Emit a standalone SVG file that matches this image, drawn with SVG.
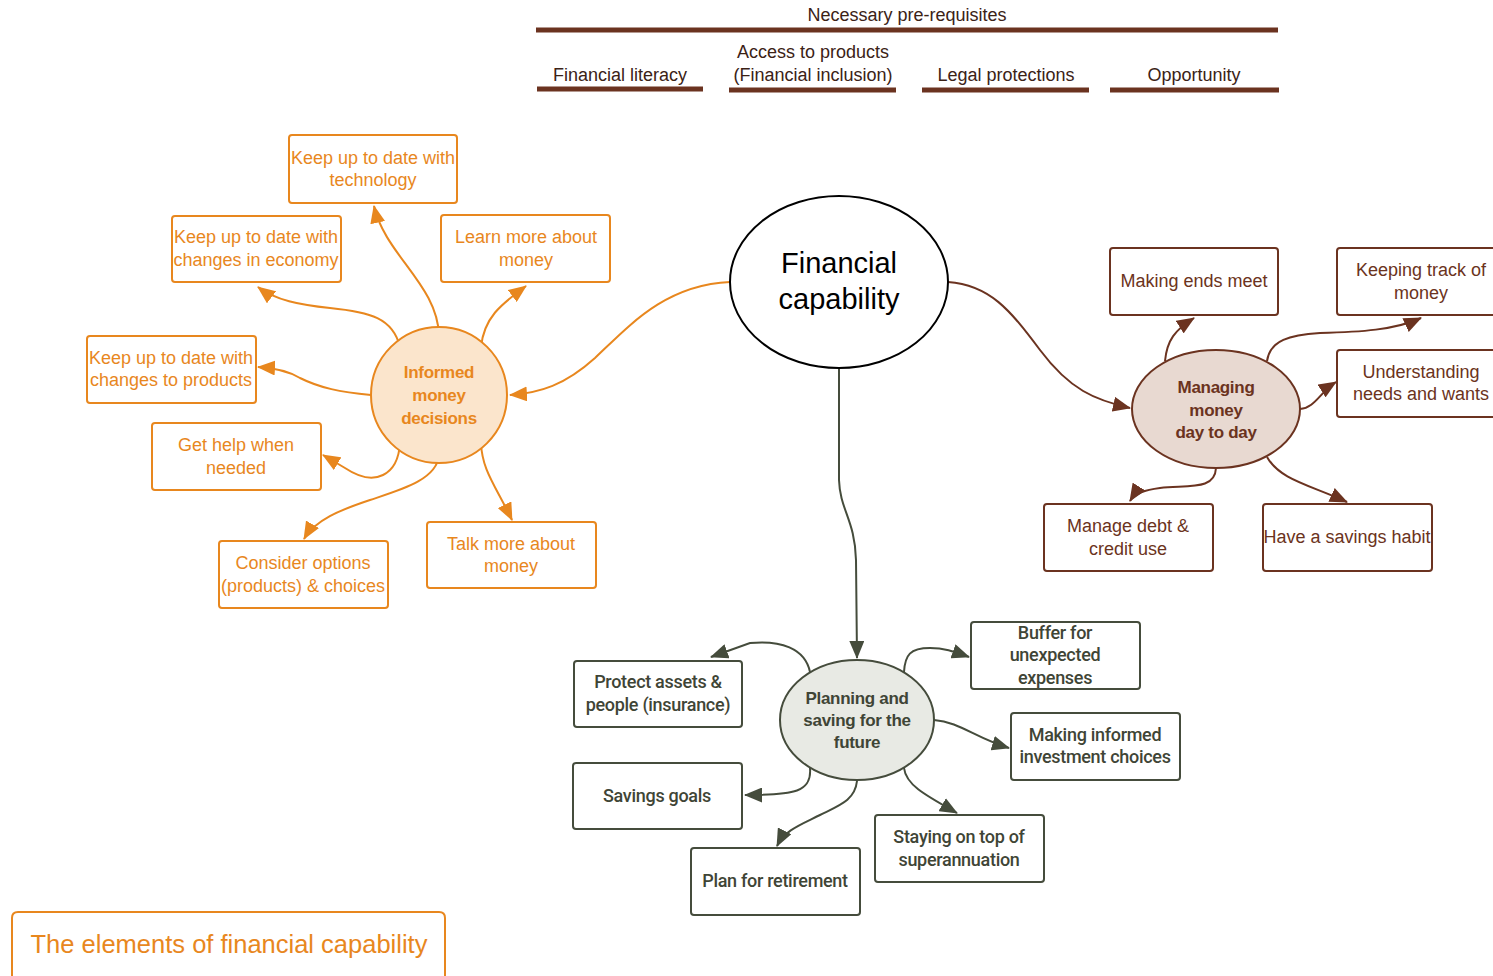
<svg xmlns="http://www.w3.org/2000/svg" width="1493" height="976" viewBox="0 0 1493 976">
<style>
text{font-family:"Liberation Sans",Arial,sans-serif;text-anchor:middle}
.o rect{fill:#fff;stroke:#E8871E;stroke-width:2}
.o text{fill:#E8871E;font-size:18px}
.b rect{fill:#fff;stroke:#6B3320;stroke-width:2}
.b text{fill:#6B3320;font-size:18px}
.g rect{fill:#fff;stroke:#454C3C;stroke-width:2}
.g text{fill:#3F4536;font-size:18px;font-family:Roboto,"Liberation Sans",sans-serif;font-weight:500;letter-spacing:-0.3px}
.co path{fill:none;stroke:#E8871E;stroke-width:2;marker-end:url(#ao)}
.cb path{fill:none;stroke:#6B3320;stroke-width:2;marker-end:url(#ab)}
.cg path{fill:none;stroke:#454C3C;stroke-width:2;marker-end:url(#ag)}
.pre text{fill:#3B2216;font-size:18px}
.pre line{stroke:#6B3320;stroke-width:5}
.hub text{font-weight:bold;font-size:17px;letter-spacing:-0.3px}
</style>
<defs>
<marker id="ao" viewBox="0 0 18 15" refX="17" refY="7.5" markerWidth="18" markerHeight="15" markerUnits="userSpaceOnUse" orient="auto"><path d="M0,0 L18,7.5 L0,15 Z" fill="#E8871E"/></marker>
<marker id="ab" viewBox="0 0 18 15" refX="17" refY="7.5" markerWidth="18" markerHeight="15" markerUnits="userSpaceOnUse" orient="auto"><path d="M0,0 L18,7.5 L0,15 Z" fill="#6B3320"/></marker>
<marker id="ag" viewBox="0 0 18 15" refX="17" refY="7.5" markerWidth="18" markerHeight="15" markerUnits="userSpaceOnUse" orient="auto"><path d="M0,0 L18,7.5 L0,15 Z" fill="#454C3C"/></marker>
</defs>
<rect width="1493" height="976" fill="#fff"/>

<g id="prerequisites" class="pre">
<text x="907" y="21">Necessary pre-requisites</text>
<line x1="536" y1="30" x2="1278" y2="30"/>
<text x="620" y="81">Financial literacy</text>
<line x1="537" y1="89" x2="703" y2="89"/>
<text x="813" y="58">Access to products</text>
<text x="813" y="81">(Financial inclusion)</text>
<line x1="729" y1="90" x2="896" y2="90"/>
<text x="1006" y="81">Legal protections</text>
<line x1="922" y1="90" x2="1089" y2="90"/>
<text x="1194" y="81">Opportunity</text>
<line x1="1110" y1="90" x2="1279" y2="90"/>
</g>

<g id="connectors">
<g class="co">
<path d="M730,282 C665,285 630,325 595,358 C565,385 540,393 510,395"/>
<path d="M439,336 C438,285 385,255 374,206"/>
<path d="M400,347 C393,318 370,312 330,308 C300,305 275,300 258,287"/>
<path d="M481,347 C484,318 500,305 526,286"/>
<path d="M371,395 C340,392 320,388 300,378 C290,372 275,368 258,367"/>
<path d="M400,443 C398,475 375,488 345,468 L323,455"/>
<path d="M439,455 C437,480 400,490 370,500 C340,510 315,520 304,539"/>
<path d="M481,443 C482,470 495,485 512,520"/>
</g>
<g class="cb">
<path d="M948,282 C990,285 1010,310 1040,350 C1070,390 1095,400 1130,408"/>
<path d="M1165,361 C1167,340 1175,330 1194,318"/>
<path d="M1267,361 C1270,340 1290,335 1320,333 C1360,332 1395,330 1421,318"/>
<path d="M1300,409 C1315,408 1320,392 1336,382"/>
<path d="M1216,468 C1215,490 1190,485 1160,488 C1145,490 1135,493 1130,501"/>
<path d="M1267,457 C1280,480 1310,485 1347,502"/>
</g>
<g class="cg">
<path d="M839,368 L839,480 C840,510 855,520 856,560 L857,658"/>
<path d="M810,672 C805,648 780,640 750,643 L711,657"/>
<path d="M904,672 C905,655 910,648 930,648 C945,648 955,652 969,657"/>
<path d="M934,720 C960,722 975,738 1009,748"/>
<path d="M810,768 C812,792 795,795 745,795"/>
<path d="M857,781 C855,800 840,805 820,815 C800,825 785,830 777,846"/>
<path d="M904,768 C906,785 925,795 957,813"/>
</g>
</g>

<g id="financial-capability">
<ellipse cx="839" cy="282" rx="109" ry="86" fill="#fff" stroke="#000" stroke-width="2"/>
<text x="839" y="273" font-size="29" fill="#000">Financial</text>
<text x="839" y="309" font-size="29" fill="#000">capability</text>
</g>

<g id="informed-money-decisions" class="hub">
<circle cx="439" cy="395" r="68" fill="#FBE5CC" stroke="#E8871E" stroke-width="2"/>
<text x="439" y="378" fill="#E8871E">Informed</text>
<text x="439" y="401" fill="#E8871E">money</text>
<text x="439" y="424" fill="#E8871E">decisions</text>
</g>

<g id="managing-money" class="hub">
<ellipse cx="1216" cy="409" rx="84" ry="59" fill="#E8D9D1" stroke="#6B3320" stroke-width="2"/>
<text x="1216" y="393" fill="#6B3320">Managing</text>
<text x="1216" y="416" fill="#6B3320">money</text>
<text x="1216" y="438" fill="#6B3320">day to day</text>
</g>

<g id="planning-saving" class="hub">
<ellipse cx="857" cy="720" rx="77" ry="60" fill="#E8EAE4" stroke="#454C3C" stroke-width="2"/>
<text x="857" y="704" fill="#3F4536">Planning and</text>
<text x="857" y="726" fill="#3F4536">saving for the</text>
<text x="857" y="748" fill="#3F4536">future</text>
</g>

<g id="keep-technology" class="o"><rect x="289" y="135" width="168" height="68" rx="3"/><text x="373" y="164">Keep up to date with</text><text x="373" y="186">technology</text></g>
<g id="keep-economy" class="o"><rect x="172" y="216" width="169" height="66" rx="3"/><text x="256" y="243">Keep up to date with</text><text x="256" y="266">changes in economy</text></g>
<g id="learn-more" class="o"><rect x="441" y="215" width="169" height="67" rx="3"/><text x="526" y="243">Learn more about</text><text x="526" y="266">money</text></g>
<g id="keep-products" class="o"><rect x="87" y="336" width="169" height="67" rx="3"/><text x="171" y="364">Keep up to date with</text><text x="171" y="386">changes to products</text></g>
<g id="get-help" class="o"><rect x="152" y="423" width="169" height="67" rx="3"/><text x="236" y="451">Get help when</text><text x="236" y="474">needed</text></g>
<g id="consider-options" class="o"><rect x="219" y="541" width="169" height="67" rx="3"/><text x="303" y="569">Consider options</text><text x="303" y="592">(products) &amp; choices</text></g>
<g id="talk-more" class="o"><rect x="427" y="522" width="169" height="66" rx="3"/><text x="511" y="550">Talk more about</text><text x="511" y="572">money</text></g>

<g id="making-ends-meet" class="b"><rect x="1110" y="248" width="168" height="67" rx="3"/><text x="1194" y="287">Making ends meet</text></g>
<g id="keeping-track" class="b"><rect x="1337" y="248" width="170" height="67" rx="3"/><text x="1421" y="276">Keeping track of</text><text x="1421" y="299">money</text></g>
<g id="understanding-needs" class="b"><rect x="1337" y="350" width="170" height="67" rx="3"/><text x="1421" y="378">Understanding</text><text x="1421" y="400">needs and wants</text></g>
<g id="manage-debt" class="b"><rect x="1044" y="504" width="169" height="67" rx="3"/><text x="1128" y="532">Manage debt &amp;</text><text x="1128" y="555">credit use</text></g>
<g id="savings-habit" class="b"><rect x="1263" y="504" width="169" height="67" rx="3"/><text x="1347" y="543">Have a savings habit</text></g>

<g id="protect-assets" class="g"><rect x="574" y="661" width="168" height="66" rx="3"/><text x="658" y="688">Protect assets &amp;</text><text x="658" y="711">people (insurance)</text></g>
<g id="buffer" class="g"><rect x="971" y="622" width="169" height="67" rx="3"/><text x="1055" y="639">Buffer for</text><text x="1055" y="661">unexpected</text><text x="1055" y="684">expenses</text></g>
<g id="investment-choices" class="g"><rect x="1011" y="713" width="169" height="67" rx="3"/><text x="1095" y="741">Making informed</text><text x="1095" y="763">investment choices</text></g>
<g id="savings-goals" class="g"><rect x="573" y="763" width="169" height="66" rx="3"/><text x="657" y="802">Savings goals</text></g>
<g id="superannuation" class="g"><rect x="875" y="815" width="169" height="67" rx="3"/><text x="959" y="843">Staying on top of</text><text x="959" y="866">superannuation</text></g>
<g id="plan-retirement" class="g"><rect x="691" y="848" width="169" height="67" rx="3"/><text x="775" y="887">Plan for retirement</text></g>

<g id="title">
<path d="M12,976 L12,918 Q12,912 18,912 L439,912 Q445,912 445,918 L445,976" fill="#fff" stroke="#E8871E" stroke-width="2"/>
<text x="229" y="953" font-size="25.5" fill="#E8871E">The elements of financial capability</text>
</g>
</svg>
